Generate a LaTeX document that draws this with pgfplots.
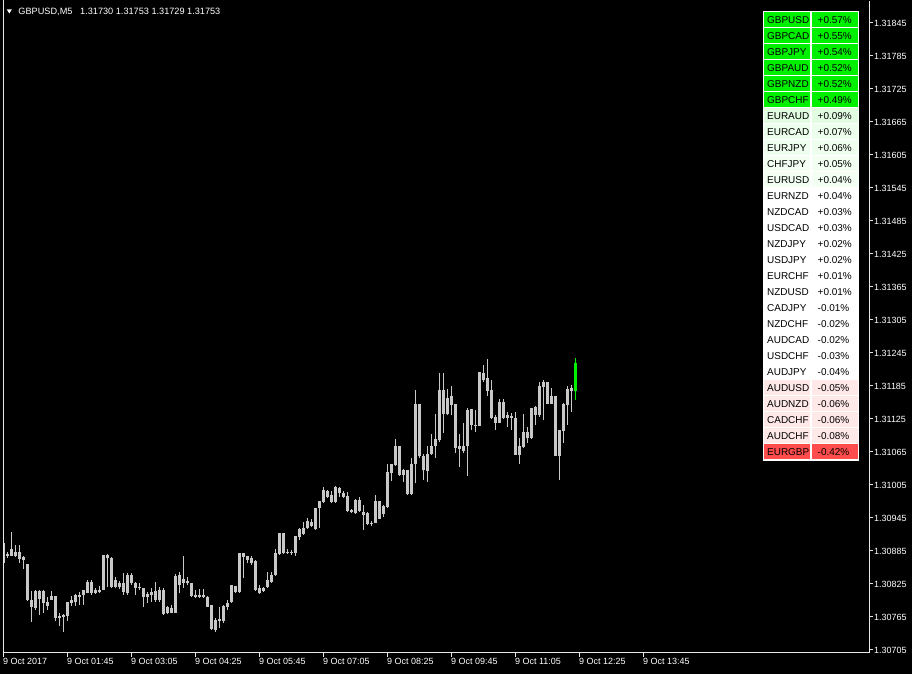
\documentclass[border=0pt]{standalone}
\usepackage{pgfplots}
\pgfplotsset{compat=1.18}
\usepackage{pgfplotstable}
\usepackage{fontspec}
\setmainfont{Liberation Sans}
\pagecolor{black}

\definecolor{candle}{RGB}{200,200,200}
\definecolor{upgreen}{RGB}{0,240,0}
\definecolor{framec}{RGB}{232,232,232}
\definecolor{gA}{RGB}{0,240,0}
\definecolor{lgA}{RGB}{226,252,226}
\definecolor{lgB}{RGB}{236,255,236}
\definecolor{lgC}{RGB}{239,255,239}
\definecolor{lgD}{RGB}{242,255,242}
\definecolor{lgE}{RGB}{244,255,244}
\definecolor{pk}{RGB}{255,232,232}
\definecolor{rd}{RGB}{255,76,76}

% M5 bars: index, high, body top, body bottom, low
\pgfplotstableread{
i h bt bb l
0 1.30899 1.30899 1.30863 1.30863
1 1.30884 1.30879 1.30876 1.30872
2 1.30919 1.30888 1.30876 1.30875
3 1.30896 1.30884 1.30876 1.30874
4 1.30896 1.30883 1.30870 1.30864
5 1.30875 1.30874 1.30869 1.30852
6 1.30861 1.30861 1.30796 1.30794
7 1.30812 1.30795 1.30783 1.30755
8 1.30814 1.30812 1.30781 1.30778
9 1.30814 1.30812 1.30798 1.30769
10 1.30814 1.30812 1.30790 1.30772
11 1.30802 1.30793 1.30785 1.30778
12 1.30812 1.30803 1.30796 1.30796
13 1.30803 1.30803 1.30764 1.30757
14 1.30772 1.30767 1.30764 1.30749
15 1.30771 1.30769 1.30765 1.30738
16 1.30793 1.30793 1.30766 1.30757
17 1.30803 1.30795 1.30791 1.30785
18 1.30807 1.30805 1.30793 1.30785
19 1.30811 1.30805 1.30802 1.30787
20 1.30814 1.30814 1.30805 1.30787
21 1.30832 1.30829 1.30809 1.30808
22 1.30832 1.30829 1.30808 1.30805
23 1.30817 1.30814 1.30808 1.30807
24 1.30821 1.30814 1.30811 1.30808
25 1.30878 1.30877 1.30814 1.30814
26 1.30880 1.30878 1.30872 1.30820
27 1.30874 1.30872 1.30820 1.30817
28 1.30837 1.30832 1.30820 1.30817
29 1.30831 1.30826 1.30820 1.30816
30 1.30845 1.30827 1.30811 1.30805
31 1.30845 1.30841 1.30808 1.30805
32 1.30845 1.30841 1.30826 1.30823
33 1.30829 1.30826 1.30817 1.30805
34 1.30827 1.30820 1.30817 1.30814
35 1.30817 1.30817 1.30801 1.30783
36 1.30811 1.30807 1.30801 1.30790
37 1.30817 1.30811 1.30805 1.30793
38 1.30829 1.30813 1.30796 1.30793
39 1.30820 1.30814 1.30796 1.30793
40 1.30817 1.30814 1.30770 1.30769
41 1.30785 1.30783 1.30772 1.30771
42 1.30787 1.30781 1.30773 1.30772
43 1.30843 1.30840 1.30773 1.30772
44 1.30846 1.30841 1.30824 1.30808
45 1.30875 1.30834 1.30826 1.30817
46 1.30837 1.30831 1.30826 1.30823
47 1.30827 1.30826 1.30803 1.30802
48 1.30814 1.30805 1.30801 1.30799
49 1.30815 1.30805 1.30801 1.30799
50 1.30815 1.30805 1.30801 1.30799
51 1.30803 1.30802 1.30784 1.30783
52 1.30787 1.30787 1.30743 1.30741
53 1.30763 1.30760 1.30741 1.30737
54 1.30783 1.30761 1.30757 1.30745
55 1.30787 1.30785 1.30757 1.30754
56 1.30796 1.30791 1.30784 1.30777
57 1.30823 1.30823 1.30793 1.30791
58 1.30821 1.30821 1.30811 1.30809
59 1.30882 1.30881 1.30811 1.30809
60 1.30881 1.30881 1.30874 1.30835
61 1.30876 1.30876 1.30869 1.30863
62 1.30875 1.30872 1.30863 1.30860
63 1.30869 1.30867 1.30814 1.30813
64 1.30823 1.30817 1.30809 1.30807
65 1.30820 1.30818 1.30812 1.30811
66 1.30846 1.30832 1.30820 1.30817
67 1.30847 1.30841 1.30829 1.30827
68 1.30888 1.30882 1.30841 1.30840
69 1.30917 1.30917 1.30880 1.30878
70 1.30917 1.30917 1.30881 1.30880
71 1.30888 1.30884 1.30881 1.30880
72 1.30887 1.30884 1.30881 1.30878
73 1.30912 1.30912 1.30881 1.30876
74 1.30927 1.30925 1.30911 1.30905
75 1.30938 1.30926 1.30915 1.30914
76 1.30945 1.30940 1.30926 1.30925
77 1.30943 1.30938 1.30931 1.30929
78 1.30964 1.30964 1.30925 1.30923
79 1.30976 1.30976 1.30963 1.30927
80 1.31002 1.30996 1.30974 1.30972
81 1.30996 1.30994 1.30984 1.30982
82 1.30994 1.30987 1.30974 1.30972
83 1.31004 1.31002 1.30974 1.30973
84 1.31002 1.30999 1.30990 1.30984
85 1.30994 1.30990 1.30984 1.30982
86 1.30993 1.30985 1.30958 1.30955
87 1.30961 1.30960 1.30955 1.30954
88 1.30979 1.30978 1.30954 1.30952
89 1.30983 1.30978 1.30958 1.30956
90 1.30969 1.30956 1.30950 1.30923
91 1.30956 1.30954 1.30934 1.30932
92 1.30940 1.30936 1.30934 1.30930
93 1.30987 1.30975 1.30936 1.30936
94 1.30976 1.30975 1.30944 1.30943
95 1.30969 1.30967 1.30952 1.30947
96 1.31044 1.31028 1.30965 1.30963
97 1.31044 1.31043 1.31026 1.31012
98 1.31089 1.31075 1.31041 1.31040
99 1.31076 1.31076 1.31024 1.31022
100 1.31034 1.31032 1.31024 1.31010
101 1.31032 1.31032 1.30988 1.30987
102 1.31054 1.31044 1.30988 1.30987
103 1.31178 1.31152 1.31044 1.31008
104 1.31152 1.31152 1.31057 1.31054
105 1.31061 1.31057 1.31032 1.31014
106 1.31076 1.31061 1.31031 1.31011
107 1.31097 1.31076 1.31061 1.31060
108 1.31134 1.31088 1.31075 1.31054
109 1.31209 1.31177 1.31086 1.31084
110 1.31209 1.31177 1.31134 1.31100
111 1.31179 1.31163 1.31134 1.31132
112 1.31185 1.31166 1.31151 1.31132
113 1.31152 1.31152 1.31072 1.31063
114 1.31098 1.31075 1.31070 1.31038
115 1.31117 1.31076 1.31066 1.31063
116 1.31145 1.31141 1.31075 1.31021
117 1.31143 1.31143 1.31114 1.31105
118 1.31141 1.31114 1.31112 1.31102
119 1.31211 1.31211 1.31112 1.31112
120 1.31223 1.31209 1.31195 1.31193
121 1.31234 1.31199 1.31175 1.31166
122 1.31196 1.31177 1.31126 1.31125
123 1.31132 1.31129 1.31118 1.31105
124 1.31161 1.31155 1.31118 1.31117
125 1.31161 1.31155 1.31126 1.31125
126 1.31138 1.31132 1.31127 1.31110
127 1.31135 1.31131 1.31127 1.31105
128 1.31138 1.31126 1.31060 1.31060
129 1.31090 1.31075 1.31060 1.31044
130 1.31134 1.31102 1.31074 1.31072
131 1.31110 1.31102 1.31090 1.31082
132 1.31145 1.31145 1.31090 1.31088
133 1.31149 1.31146 1.31132 1.31114
134 1.31192 1.31185 1.31132 1.31129
135 1.31196 1.31193 1.31183 1.31123
136 1.31193 1.31193 1.31152 1.31152
137 1.31181 1.31166 1.31152 1.31152
138 1.31166 1.31166 1.31058 1.31058
139 1.31105 1.31105 1.31058 1.31014
140 1.31154 1.31152 1.31104 1.31082
141 1.31185 1.31179 1.31151 1.31114
142 1.31187 1.31181 1.31175 1.31138
}\candles

\pgfplotstableread{
i h bt bb l
143 1.31235 1.31226 1.31175 1.31160
}\lastbar

\begin{document}
\begin{tikzpicture}[x=1bp,y=1bp]
\begin{axis}[
  width=866bp, height=652bp, scale only axis,
  xmin=-0.125, xmax=216.375,
  ymin=1.306995, ymax=1.31885,
  axis x line=bottom, axis y line=right,
  axis line style={framec, line width=1bp, -},
  tick align=outside, major tick length=4bp,
  tick style={framec, line width=1bp},
  scaled y ticks=false,
  xtick={0,16,32,48,64,80,96,112,128,144,160},
  xticklabels={9 Oct 2017, 9 Oct 01:45, 9 Oct 03:05, 9 Oct 04:25, 9 Oct 05:45,
    9 Oct 07:05, 9 Oct 08:25, 9 Oct 09:45, 9 Oct 11:05, 9 Oct 12:25, 9 Oct 13:45},
  ytick={1.30705,1.30765,1.30825,1.30885,1.30945,1.31005,1.31065,1.31125,1.31185,1.31245,
    1.31305,1.31365,1.31425,1.31485,1.31545,1.31605,1.31665,1.31725,1.31785,1.31845},
  yticklabels={1.30705,1.30765,1.30825,1.30885,1.30945,1.31005,1.31065,1.31125,1.31185,1.31245,
    1.31305,1.31365,1.31425,1.31485,1.31545,1.31605,1.31665,1.31725,1.31785,1.31845},
  tick label style={font=\fontsize{9}{10}\selectfont, text=white},
  xticklabel style={anchor=north west, inner sep=0pt, xshift=-0.5bp, yshift=-1.5bp},
  yticklabel style={anchor=west, inner sep=0pt, xshift=1bp},
]
% wicks
\addplot[draw=none, mark=none, forget plot,
  error bars/.cd, y dir=plus, y explicit, error mark=none,
  error bar style={draw=candle, line width=1bp}]
  table[x=i, y=l, y error plus expr=\thisrow{h}-\thisrow{l}] {\candles};
% bodies
\addplot[draw=none, mark=none, forget plot,
  error bars/.cd, y dir=plus, y explicit, error mark=none,
  error bar style={draw=candle, line width=3bp}]
  table[x=i, y=bb, y error plus expr=\thisrow{bt}-\thisrow{bb}] {\candles};
% current bar
\addplot[draw=none, mark=none, forget plot,
  error bars/.cd, y dir=plus, y explicit, error mark=none,
  error bar style={draw=upgreen, line width=1bp}]
  table[x=i, y=l, y error plus expr=\thisrow{h}-\thisrow{l}] {\lastbar};
\addplot[draw=none, mark=none, forget plot,
  error bars/.cd, y dir=plus, y explicit, error mark=none,
  error bar style={draw=upgreen, line width=3bp}]
  table[x=i, y=bb, y error plus expr=\thisrow{bt}-\thisrow{bb}] {\lastbar};
\coordinate (SW) at (rel axis cs:0,0);
\end{axis}

\begin{scope}[shift={(SW)}, xshift=-3bp, yshift=-21bp]
% left frame line
\draw[framec, line width=1bp] (3,21) -- (3,674);

% title
\fill[white] (6.7,664.7) -- (11.9,664.7) -- (9.3,660.5) -- cycle;
\node[anchor=base west, inner sep=0pt, text=white, font=\fontsize{9.2}{10}\selectfont] at (18.3,659) {GBPUSD,M5};
\node[anchor=base west, inner sep=0pt, text=white, font=\fontsize{9.2}{10}\selectfont] at (80,659) {1.31730 1.31753 1.31729 1.31753};

% strength table
\fill[white] (763,213.3) rectangle (859,663);
\foreach \s/\v/\c [count=\k from 0] in {
  GBPUSD/+0.57\%/gA, GBPCAD/+0.55\%/gA, GBPJPY/+0.54\%/gA, GBPAUD/+0.52\%/gA,
  GBPNZD/+0.52\%/gA, GBPCHF/+0.49\%/gA, EURAUD/+0.09\%/lgA, EURCAD/+0.07\%/lgB,
  EURJPY/+0.06\%/lgC, CHFJPY/+0.05\%/lgD, EURUSD/+0.04\%/lgE, EURNZD/+0.04\%/white,
  NZDCAD/+0.03\%/white, USDCAD/+0.03\%/white, NZDJPY/+0.02\%/white, USDJPY/+0.02\%/white,
  EURCHF/+0.01\%/white, NZDUSD/+0.01\%/white, CADJPY/-0.01\%/white, NZDCHF/-0.02\%/white,
  AUDCAD/-0.02\%/white, USDCHF/-0.03\%/white, AUDJPY/-0.04\%/white, AUDUSD/-0.05\%/pk,
  AUDNZD/-0.06\%/pk, CADCHF/-0.06\%/pk, AUDCHF/-0.08\%/pk, EURGBP/-0.42\%/rd} {
  \pgfmathsetmacro{\yt}{674-12.3-16*\k}
  \fill[\c] (764.3,\yt) rectangle (810,\yt-14.5);
  \fill[\c] (811.7,\yt) rectangle (857.7,\yt-14.5);
  \node[anchor=base west, inner sep=0pt, font=\fontsize{10}{11}\selectfont] at (767,\yt-11.5) {\s};
  \node[anchor=base west, inner sep=0pt, font=\fontsize{10}{11}\selectfont] at (817.5,\yt-11.5) {\v};
}
\pgfresetboundingbox
\useasboundingbox (0,0) rectangle (912,674);
\end{scope}
\end{tikzpicture}
\end{document}
